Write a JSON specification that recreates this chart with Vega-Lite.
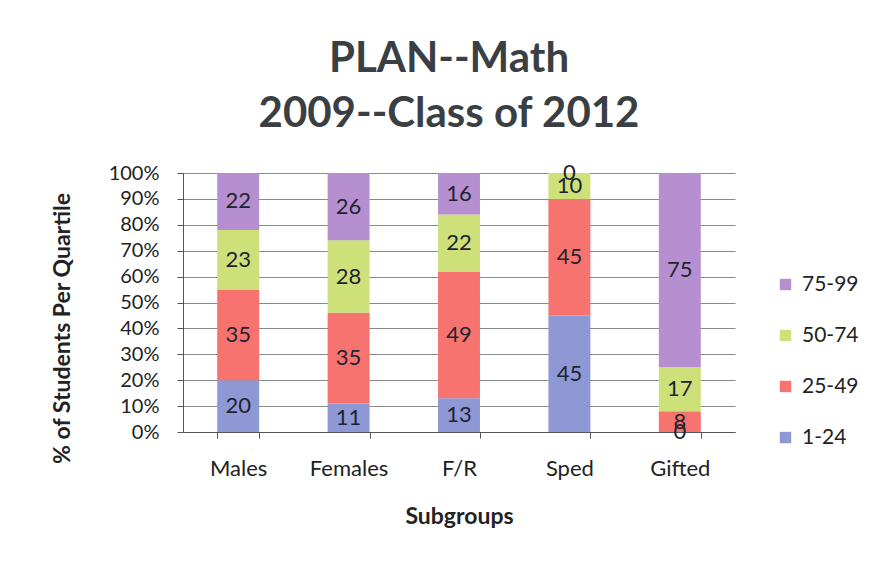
{
  "$schema": "https://vega.github.io/schema/vega-lite/v6.json",
  "autosize": "none",
  "width": 552,
  "height": 259,
  "padding": {"left": 183, "top": 173, "right": 159, "bottom": 141},
  "background": "white",
  "title": {
    "text": ["PLAN--Math", "2009--Class of 2012"],
    "font": "Lato",
    "fontSize": 42,
    "fontWeight": "bold",
    "color": "#3a3f44",
    "lineHeight": 55,
    "offset": 26,
    "dx": -10
  },
  "config": {
    "font": "Lato",
    "view": {"stroke": null},
    "axis": {
      "labelFont": "Lato",
      "titleFont": "Lato",
      "labelColor": "#222",
      "titleColor": "#222",
      "domainColor": "#555",
      "tickColor": "#555",
      "gridColor": "#8a8a8a"
    },
    "axisY": {
      "titleFontSize": 23,
      "titleFontWeight": "bold",
      "titlePadding": 34,
      "titleY": 155,
      "labelOverlap": false,
      "labelFontSize": 20,
      "labelPadding": 18,
      "tickSize": 6,
      "grid": true,
      "gridWidth": 1.2
    }
  },
  "data": {
    "values": [
      {"group": "Males", "quartile": "1-24", "value": 20},
      {"group": "Males", "quartile": "25-49", "value": 35},
      {"group": "Males", "quartile": "50-74", "value": 23},
      {"group": "Males", "quartile": "75-99", "value": 22},
      {"group": "Females", "quartile": "1-24", "value": 11},
      {"group": "Females", "quartile": "25-49", "value": 35},
      {"group": "Females", "quartile": "50-74", "value": 28},
      {"group": "Females", "quartile": "75-99", "value": 26},
      {"group": "F/R", "quartile": "1-24", "value": 13},
      {"group": "F/R", "quartile": "25-49", "value": 49},
      {"group": "F/R", "quartile": "50-74", "value": 22},
      {"group": "F/R", "quartile": "75-99", "value": 16},
      {"group": "Sped", "quartile": "1-24", "value": 45},
      {"group": "Sped", "quartile": "25-49", "value": 45},
      {"group": "Sped", "quartile": "50-74", "value": 10},
      {"group": "Sped", "quartile": "75-99", "value": 0},
      {"group": "Gifted", "quartile": "1-24", "value": 0},
      {"group": "Gifted", "quartile": "25-49", "value": 8},
      {"group": "Gifted", "quartile": "50-74", "value": 17},
      {"group": "Gifted", "quartile": "75-99", "value": 75}
    ]
  },
  "transform": [
    {"stack": "value", "groupby": ["group"], "sort": [{"field": "quartile", "order": "ascending"}], "offset": "normalize", "as": ["y0", "y1"]},
    {"calculate": "(datum.y0 + datum.y1) / 2", "as": "ymid"}
  ],
  "encoding": {
    "x": {
      "field": "group",
      "type": "nominal",
      "sort": ["Males", "Females", "F/R", "Sped", "Gifted"],
      "scale": {"paddingInner": 0.62, "paddingOuter": 0.31},
      "axis": {
        "title": "Subgroups",
        "titleFontSize": 23,
        "titleFontWeight": "bold",
        "titlePadding": 26,
        "labelAngle": 0,
        "labelFontSize": 22,
        "labelPadding": 20,
        "tickBand": "extent",
        "tickSize": 6,
        "domainColor": "#555"
      }
    }
  },
  "layer": [
    {
      "mark": {"type": "bar", "stroke": null},
      "encoding": {
        "y": {
          "field": "y0",
          "type": "quantitative",
          "scale": {"domain": [0, 1], "nice": false},
          "title": "% of Students Per Quartile",
          "axis": {
            "format": ".0%",
            "values": [0, 0.1, 0.2, 0.3, 0.4, 0.5, 0.6, 0.7, 0.8, 0.9, 1]
          }
        },
        "y2": {"field": "y1"},
        "color": {
          "field": "quartile",
          "type": "nominal",
          "scale": {
            "domain": ["75-99", "50-74", "25-49", "1-24"],
            "range": ["#b58fd0", "#cde07a", "#f7736f", "#8d98d4"]
          },
          "legend": {
            "title": null,
            "orient": "none",
            "legendX": 592,
            "legendY": 101,
            "symbolType": "square",
            "symbolSize": 130,
            "symbolStrokeWidth": 0,
            "labelFontSize": 21,
            "labelColor": "#222",
            "rowPadding": 29,
            "labelOffset": 6
          }
        }
      }
    },
    {
      "mark": {"type": "text", "fontSize": 22, "color": "#1f2430"},
      "encoding": {
        "y": {
          "field": "ymid",
          "type": "quantitative",
          "title": "% of Students Per Quartile",
          "axis": {
            "format": ".0%",
            "values": [0, 0.1, 0.2, 0.3, 0.4, 0.5, 0.6, 0.7, 0.8, 0.9, 1]
          }
        },
        "text": {"field": "value", "type": "quantitative"}
      }
    }
  ]
}
